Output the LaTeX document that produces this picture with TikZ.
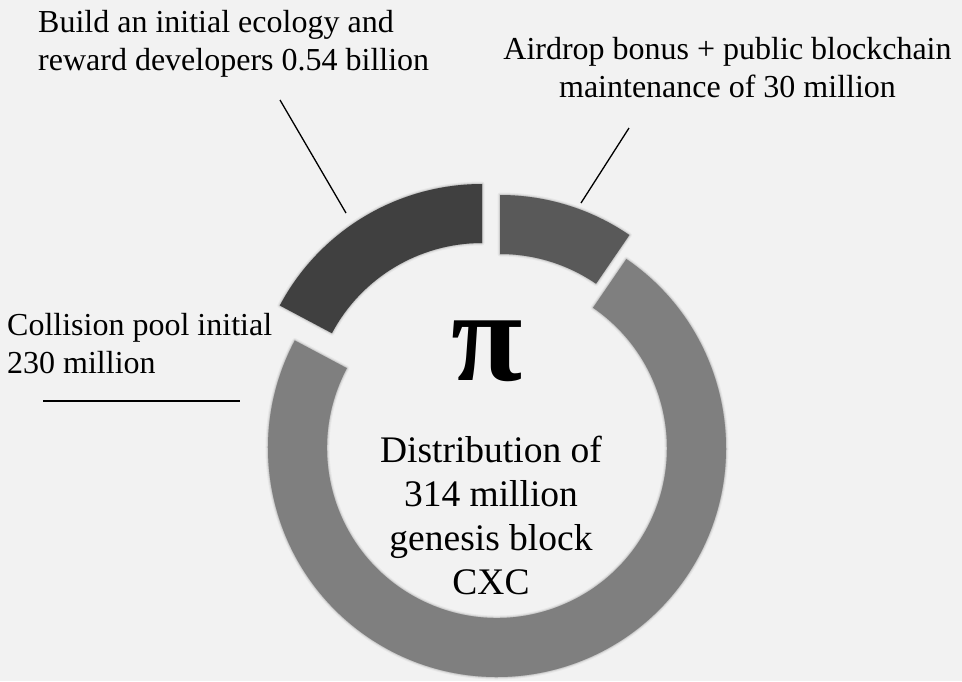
\documentclass[tikz,border=0pt]{standalone}
\usepackage{fontspec}
\setmainfont{Liberation Serif}
\usetikzlibrary{calc}
\definecolor{bg}{HTML}{F2F2F2}
\definecolor{segdark}{HTML}{404040}
\definecolor{segmid}{HTML}{595959}
\definecolor{seglight}{HTML}{7F7F7F}
\tikzset{
  lbl/.style={inner sep=0pt, font=\fontsize{32}{38}\selectfont},
  ctr/.style={inner sep=0pt, align=center, font=\fontsize{37.5}{44}\selectfont},
  leader/.style={draw=black, line width=1.3pt},
  softshadow/.style={draw=black, fill=black, line join=round},
}
\newcommand{\segpath}[4]{% centre, start (tikz angle), end, 
  ($(#1)+(#2:229)$) arc[start angle=#2, end angle=#3, radius=229]
  -- ($(#1)+(#3:170)$) arc[start angle=#3, end angle=#2, radius=170] -- cycle}
\newcommand{\segment}[4]{%
  \begin{scope}[shift={(1.5,1.5)}]
    \path[softshadow, line width=5pt, opacity=0.04] \segpath{#1}{#2}{#3}{};
    \path[softshadow, line width=3pt, opacity=0.06] \segpath{#1}{#2}{#3}{};
    \path[softshadow, line width=1.5pt, opacity=0.08] \segpath{#1}{#2}{#3}{};
  \end{scope}
  \path[fill=#4] \segpath{#1}{#2}{#3}{};
}
\begin{document}
\begin{tikzpicture}[x=1pt,y=-1pt]
\fill[bg] (0,0) rectangle (962,681);
\useasboundingbox (0,0) rectangle (962,681);
% centres
\coordinate (cbig) at (497,448);
\coordinate (cdark) at (482,413);
\coordinate (cair) at (500,424);
% segments (image angles 55.6 -> 152 clockwise; 152 -> 90; 90 -> 55.6)
\segment{cbig}{-55.6}{208}{seglight}
\segment{cdark}{-152}{-90}{segdark}
\segment{cair}{-90}{-55.6}{segmid}
% pi
\node[inner sep=0pt, font=\fontsize{130}{130}\selectfont\bfseries] (pi) at (487.5,351.5) {π};
% centre text
\node[ctr, anchor=north] (center) at (491,435.5) {Distribution of\\314 million\\genesis block\\CXC};
% labels
\node[lbl, align=left, anchor=north west] (eco) at (38,10.3) {Build an initial ecology and\\reward developers 0.54 billion};
\node[lbl, align=center, anchor=north] (air) at (727.5,37.5) {Airdrop bonus + public blockchain\\maintenance of 30 million};
\node[lbl, align=left, anchor=north west] (pool) at (7,313) {Collision pool initial\\230 million};
% leaders
\coordinate (e1) at (280,100);
\coordinate (e2) at (346,213);
\coordinate (a1) at (629,128);
\coordinate (a2) at (581,203);
\coordinate (p1) at (43,401);
\coordinate (p2) at (240,401);
\draw[leader] (e1) -- (e2);
\draw[leader] (a1) -- (a2);
\draw[leader, line width=2pt] (p1) -- (p2);
\end{tikzpicture}
\end{document}
